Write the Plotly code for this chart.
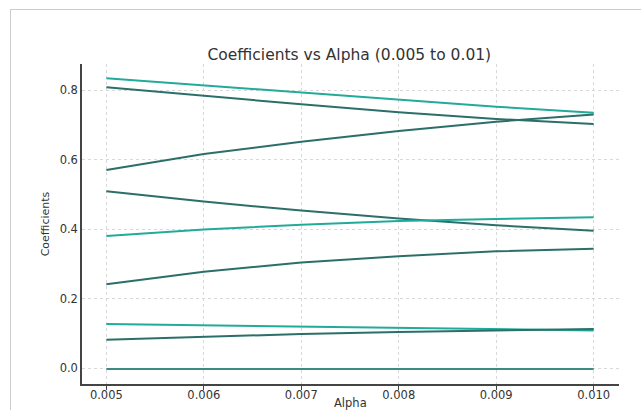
import plotly.graph_objects as go

alphas = [0.005, 0.006, 0.007, 0.008, 0.009, 0.010]

coef_1 = [0.834, 0.813, 0.792, 0.772, 0.752, 0.735]
coef_2 = [0.808, 0.783, 0.759, 0.736, 0.717, 0.702]
coef_3 = [0.570, 0.616, 0.651, 0.682, 0.709, 0.730]
coef_4 = [0.509, 0.479, 0.453, 0.430, 0.411, 0.395]
coef_5 = [0.380, 0.399, 0.412, 0.423, 0.429, 0.434]
coef_6 = [0.241, 0.277, 0.304, 0.322, 0.336, 0.343]
coef_7 = [0.127, 0.123, 0.119, 0.115, 0.111, 0.108]
coef_8 = [0.081, 0.090, 0.098, 0.104, 0.108, 0.112]
coef_9 = [-0.003, -0.003, -0.003, -0.003, -0.003, -0.003]

series = [coef_1, coef_2, coef_3, coef_4, coef_5, coef_6, coef_7, coef_8, coef_9]
LIGHT = "#22aa9a"
DARK = "#2c6f69"
colors = [LIGHT, DARK, DARK, DARK, LIGHT, DARK, LIGHT, DARK, "#3f8a82"]

x_ticks = [0.005, 0.006, 0.007, 0.008, 0.009, 0.010]
x_tick_labels = ["0.005", "0.006", "0.007", "0.008", "0.009", "0.010"]
y_ticks = [0.0, 0.2, 0.4, 0.6, 0.8]
y_tick_labels = ["0.0", "0.2", "0.4", "0.6", "0.8"]

fig = go.Figure()
for vals, c in zip(series, colors):
    fig.add_trace(go.Scatter(x=alphas, y=vals, mode="lines",
                             line=dict(color=c, width=2), showlegend=False))

font = "DejaVu Sans, sans-serif"
fig.update_layout(
    width=641, height=410,
    margin=dict(l=82, r=22, t=64, b=26, autoexpand=False),
    paper_bgcolor="white", plot_bgcolor="white",
    font=dict(family=font, size=11.5, color="#333333"),
    title=dict(text="Coefficients vs Alpha (0.005 to 0.01)", x=0.545, xanchor="center",
               y=0.866, yanchor="middle", font=dict(size=15.5, color="#333333")),
)
fig.update_xaxes(
    range=[0.00475, 0.01026], tickvals=x_ticks, ticktext=x_tick_labels,
    showgrid=True, gridcolor="#d8d8d8", griddash="dot", gridwidth=1,
    showline=True, linecolor="#444444", linewidth=1.5,
    ticks="outside", ticklen=4, tickcolor="#444444", automargin=False,
    ticklabelstandoff=-5, zeroline=False,
)
fig.update_yaxes(
    range=[-0.046, 0.875], tickvals=y_ticks, ticktext=y_tick_labels,
    showgrid=True, gridcolor="#d8d8d8", griddash="dot", gridwidth=1,
    showline=True, linecolor="#444444", linewidth=1.5, automargin=False,
    ticks="", title=dict(text="Coefficients", standoff=8, font=dict(size=11)),
    zeroline=False,
)
fig.add_annotation(text="Alpha", xref="paper", yref="paper", x=0.5, y=-(403 - 384) / 320,
                   xanchor="center", yanchor="middle", showarrow=False,
                   font=dict(size=11.5, color="#333333"))
# light frame of the screenshot (top and left edges) drawn as thin blank boxes
fig.add_annotation(text="", xref="paper", yref="paper",
                   x=-(82 - 10) / 537, y=(384 - 9) / 320, xanchor="left", yanchor="middle",
                   showarrow=False, width=640, height=1, bgcolor="#cccccc",
                   borderpad=0, borderwidth=0)
fig.add_annotation(text="", xref="paper", yref="paper",
                   x=-(82 - 10) / 537, y=(384 - 9) / 320, xanchor="center", yanchor="top",
                   showarrow=False, width=1, height=410, bgcolor="#cccccc",
                   borderpad=0, borderwidth=0)
fig.write_html("out.html")
